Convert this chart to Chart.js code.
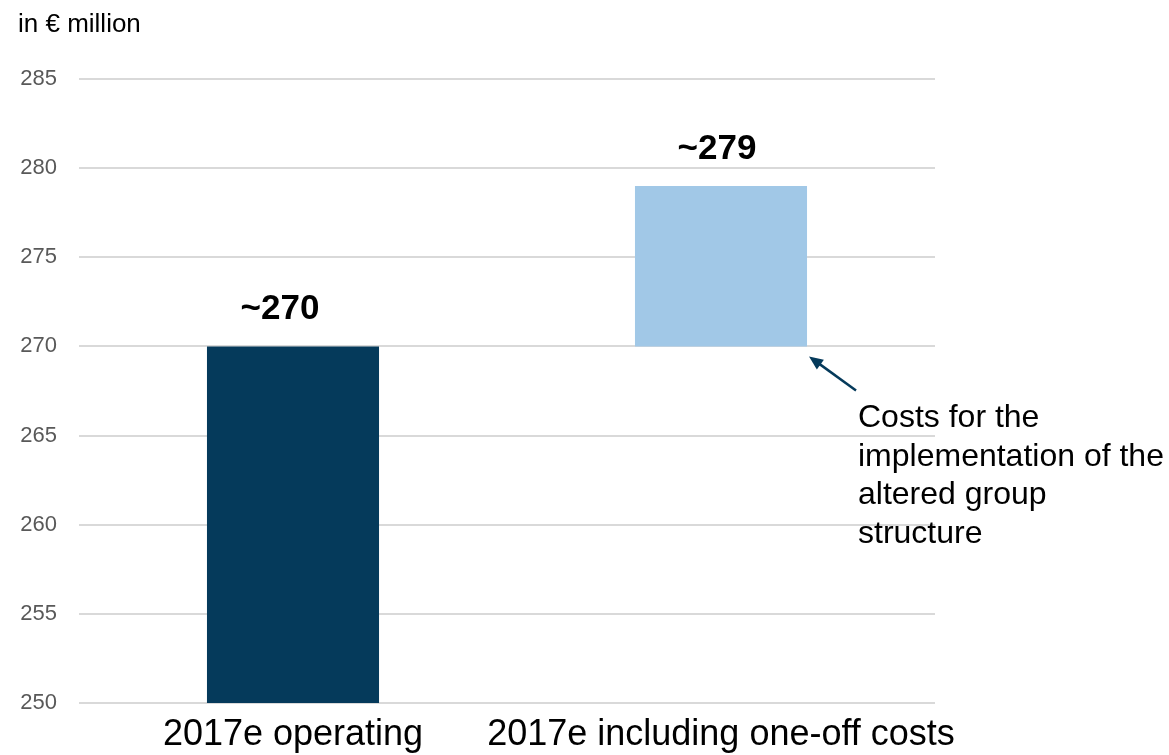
<!DOCTYPE html>
<html>
<head>
<meta charset="utf-8">
<script src="https://cdn.jsdelivr.net/npm/chart.js@4.4.1/dist/chart.umd.min.js"></script>
<style>
  html, body { margin: 0; padding: 0; background: #fff; }
  #wrap { position: relative; width: 1169px; height: 755px; overflow: hidden; }
</style>
</head>
<body>
<div id="wrap"><canvas id="chart" width="1169" height="755"></canvas></div>
<script>
// chart values
const categories = ['2017e operating', '2017e including one-off costs'];
const barStarts = [250, 270];
const barEnds = [270, 279];
const valueLabels = ['~270', '~279'];
const barColors = ['#053a5b', '#a1c8e7'];
const yTicks = [250, 255, 260, 265, 270, 275, 280, 285];
const unitText = 'in € million';
const noteLines = ['Costs for the', 'implementation of the', 'altered group', 'structure'];

const FONT = "'Liberation Sans', Arial, sans-serif";
// the value labels sit slightly left of the bar centres in the original
const labelShift = [-13, -4];

// value labels above bars, unit caption, arrow + note
const extras = {
    id: 'extras',
    afterDatasetsDraw(chart) {
        const ctx = chart.ctx;
        const meta = chart.getDatasetMeta(0);
        const y = chart.scales.y;
        ctx.save();
        ctx.fillStyle = '#000';
        ctx.textAlign = 'center';
        ctx.textBaseline = 'alphabetic';
        ctx.font = 'bold 35px ' + FONT;
        meta.data.forEach((bar, i) => {
            ctx.fillText(valueLabels[i], bar.x + labelShift[i], y.getPixelForValue(barEnds[i]) - 27);
        });

        ctx.textAlign = 'left';
        ctx.font = '26px ' + FONT;
        ctx.fillText(unitText, 18, 32);

        // arrow pointing at bottom-right corner of the second bar
        const b = meta.data[1];
        const tipX = b.x + b.width / 2 + 2;
        const tipY = y.getPixelForValue(barStarts[1]) + 10;
        const tailX = tipX + 47, tailY = tipY + 34;
        const ang = Math.atan2(tipY - tailY, tipX - tailX);
        ctx.strokeStyle = '#053a5b';
        ctx.fillStyle = '#053a5b';
        ctx.lineWidth = 2.5;
        ctx.beginPath();
        ctx.moveTo(tailX, tailY);
        ctx.lineTo(tipX - 8 * Math.cos(ang), tipY - 8 * Math.sin(ang));
        ctx.stroke();
        ctx.beginPath();
        ctx.moveTo(tipX, tipY);
        ctx.lineTo(tipX - 14 * Math.cos(ang) + 6 * Math.sin(ang), tipY - 14 * Math.sin(ang) - 6 * Math.cos(ang));
        ctx.lineTo(tipX - 14 * Math.cos(ang) - 6 * Math.sin(ang), tipY - 14 * Math.sin(ang) + 6 * Math.cos(ang));
        ctx.closePath();
        ctx.fill();

        ctx.fillStyle = '#000';
        ctx.font = '32px ' + FONT;
        noteLines.forEach((t, i) => ctx.fillText(t, 858, 427 + i * 38.5));
        ctx.restore();
    }
};

new Chart(document.getElementById('chart'), {
    type: 'bar',
    data: {
        labels: categories,
        datasets: [{
            data: barStarts.map((s, i) => [s, barEnds[i]]),
            backgroundColor: barColors,
            borderWidth: 0,
            barPercentage: 0.402,
            categoryPercentage: 1
        }]
    },
    options: {
        responsive: false,
        animation: false,
        layout: { padding: { left: 0, right: 234, top: 79, bottom: 0 } },
        plugins: { legend: { display: false }, tooltip: { enabled: false } },
        scales: {
            x: {
                grid: { display: false },
                border: { display: false },
                ticks: { color: '#000', font: { family: FONT, size: 36 }, padding: 2, maxRotation: 0, autoSkip: false },
                afterFit(scale) { scale.height = 52; }
            },
            y: {
                min: 250,
                max: 285,
                afterBuildTicks(scale) { scale.ticks = yTicks.map(v => ({ value: v })); },
                grid: { color: '#d9d9d9', lineWidth: 2, drawTicks: false },
                border: { display: false },
                ticks: { color: '#595959', font: { family: FONT, size: 22 }, padding: 22 },
                afterFit(scale) { scale.width = 79; }
            }
        }
    },
    plugins: [extras]
});
</script>
</body>
</html>
